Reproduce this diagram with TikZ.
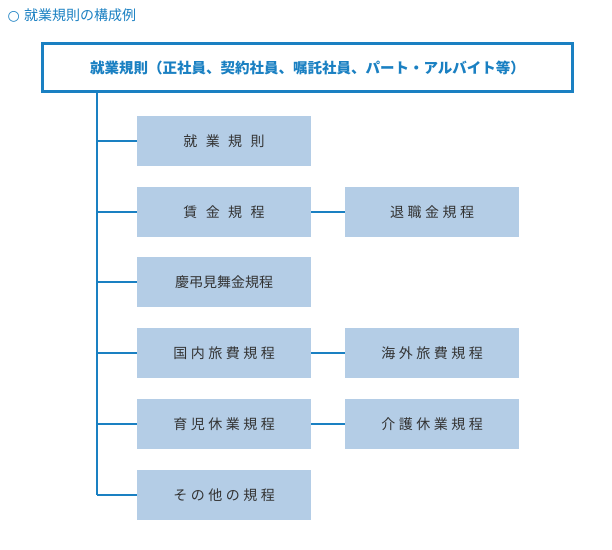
\documentclass[tikz,border=0pt]{standalone}
\usepackage{fontspec}
\setmainfont{Noto Sans CJK JP}
\definecolor{mblue}{HTML}{1A80C2}
\definecolor{bfill}{HTML}{B4CDE6}
\definecolor{tgray}{HTML}{333333}
\newcommand{\ls}[2]{{\addfontfeature{LetterSpace=#1}#2}}
\begin{document}
\begin{tikzpicture}[x=1pt,y=-1pt,
  sub/.style={fill=bfill,draw=none,minimum width=174pt,minimum height=50pt,inner sep=0pt,text=tgray,font=\fontsize{14}{16}\selectfont},
  conn/.style={draw=mblue,line width=2.5pt}]
\useasboundingbox (0,0) rectangle (612,549);
\node[anchor=west,text=mblue,font=\fontsize{14}{16}\selectfont] (title) at (4,15) {\fontspec{DejaVu Sans}○\ \setmainfont{Noto Sans CJK JP}\selectfont 就業規則の構成例};
\node[draw=mblue,line width=3pt,minimum width=530pt,minimum height=48pt,inner sep=0pt,text=mblue,font=\fontsize{14.5}{16}\selectfont\bfseries] (main) at (307.5,67.5) {就業規則（正社員、契約社員、嘱託社員、パート・アルバイト等）};
\coordinate (top) at (97,92);
\node[sub] (a) at (224,141) {\ls{60}{就業規則}};
\node[sub] (b) at (224,212) {\ls{60}{賃金規程}};
\node[sub] (c) at (224,282) {慶弔見舞金規程};
\node[sub] (d) at (224,353) {\ls{25}{国内旅費規程}};
\node[sub] (e) at (224,424) {\ls{25}{育児休業規程}};
\node[sub] (f) at (224,495) {\ls{25}{その他の規程}};
\node[sub] (b2) at (432,212) {\ls{25}{退職金規程}};
\node[sub] (d2) at (432,353) {\ls{25}{海外旅費規程}};
\node[sub] (e2) at (432,424) {\ls{25}{介護休業規程}};
\coordinate (bot) at (97,495);
\draw[conn] (top) -- (bot);
\foreach \n in {a,b,c,d,e,f} \draw[conn] (97,0 |- \n.west) -- (\n.west);
\draw[conn] (b.east) -- (b2.west);
\draw[conn] (d.east) -- (d2.west);
\draw[conn] (e.east) -- (e2.west);
\end{tikzpicture}
\end{document}
